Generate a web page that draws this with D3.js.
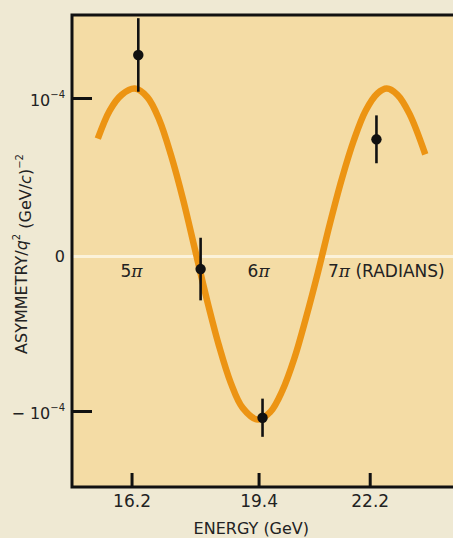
<!DOCTYPE html>
<html><head><meta charset="utf-8">
<script src="https://cdn.jsdelivr.net/npm/d3@7"></script>
<style>
body{margin:0;background:#efe9d3;}
svg{display:block;font-family:"DejaVu Sans",sans-serif;}
</style>
</head><body>
<svg id="c" width="453" height="538"></svg>
<script>
// ---- data (asymmetry in units of 10^-4 (GeV/c)^-2) ----
const xTicks = [16.2, 19.4, 22.2];
const xTickLabels = ["16.2", "19.4", "22.2"];
const yTicks = [-1, 0, 1];
const yTickBase = ["− 10", "0", "10"];
const yTickExp = ["−4", "", "−4"];

const energy = [16.37, 17.94, 19.50, 22.37];
const asym = [1.275, -0.093, -1.043, 0.736];
const asymErr = [0.235, 0.20, 0.122, 0.153];

const fitEnergy = [15.35,15.65,15.95,16.28,16.60,16.90,17.20,17.50,17.80,18.10,18.40,18.70,19.00,19.38,19.70,20.00,20.30,20.60,20.90,21.20,21.50,21.80,22.10,22.40,22.63,22.90,23.20,23.60];
const fitAsym = [0.74,0.92,1.02,1.06,1.005,0.86,0.63,0.35,0.03,-0.29,-0.58,-0.82,-0.98,-1.055,-1.005,-0.87,-0.665,-0.40,-0.11,0.20,0.485,0.73,0.92,1.03,1.06,1.02,0.90,0.64];

const phaseEnergy = [16.2, 19.4, 21.15];
const phaseText = ["5", "6", "7"];
const phaseSuffix = ["", "", " (RADIANS)"];

// ---- layout ----
const svg = d3.select("#c");
const mL = 72, mT = 15, mB = 487, mR = 461;
const x = d3.scaleLinear().domain([14.7, 24.5]).range([mL, mR]);
const y = d3.scaleLinear().domain([-1, 1]).range([411, 98]);

// plot background
svg.append("rect").attr("x", mL).attr("y", mT)
  .attr("width", 460 - mL).attr("height", mB - mT)
  .attr("fill", "#f4dca5");

// zero line
svg.append("line").attr("x1", mL).attr("x2", 460)
  .attr("y1", y(0) + 2).attr("y2", y(0) + 2)
  .attr("stroke", "#fbf2da").attr("stroke-width", 3);

// fitted curve
const line = d3.line().x((d, i) => x(fitEnergy[i])).y(d => y(d)).curve(d3.curveCatmullRom.alpha(0.5));
svg.append("path").datum(fitAsym).attr("d", line)
  .attr("fill", "none").attr("stroke", "#ec9413").attr("stroke-width", 6.5)
  .attr("stroke-linecap", "butt");

// error bars + points
const pts = svg.append("g");
energy.forEach((e, i) => {
  pts.append("line").attr("x1", x(e)).attr("x2", x(e))
    .attr("y1", y(asym[i] + asymErr[i])).attr("y2", y(asym[i] - asymErr[i]))
    .attr("stroke", "#111").attr("stroke-width", 2.6);
  pts.append("circle").attr("cx", x(e)).attr("cy", y(asym[i])).attr("r", 5.2).attr("fill", "#111");
});

// axes
const xAxis = d3.axisBottom(x).tickValues(xTicks).tickFormat((d, i) => xTickLabels[i])
  .tickSizeInner(-14).tickSizeOuter(0).tickPadding(8);
const gx = svg.append("g").attr("transform", `translate(0,${mB})`).call(xAxis);
gx.select(".domain").remove();
gx.selectAll(".tick line").attr("stroke", "#111").attr("stroke-width", 3);
gx.selectAll(".tick text").attr("font-size", 17).attr("fill", "#222")
  .attr("font-family", "DejaVu Sans");

const yAxis = d3.axisLeft(y).tickValues(yTicks).tickFormat(() => "")
  .tickSizeInner(-20).tickSizeOuter(0).tickPadding(7);
const gy = svg.append("g").attr("transform", `translate(${mL},0)`).call(yAxis);
gy.select(".domain").remove();
gy.selectAll(".tick line").attr("stroke", (d) => d === 0 ? "none" : "#111").attr("stroke-width", 3);
gy.selectAll(".tick text").each(function(d) {
  const t = d3.select(this).attr("font-size", 16).attr("fill", "#222")
    .attr("font-family", "DejaVu Sans").attr("dy", "0.45em");
  const k = yTicks.indexOf(d);
  t.append("tspan").text(yTickBase[k]);
  if (yTickExp[k]) t.append("tspan").attr("font-size", 10).attr("dy", "-0.8em").text(yTickExp[k]);
});

// frame (left, top, bottom)
svg.append("path")
  .attr("d", `M460,${mT} H${mL} V${mB} H460`)
  .attr("fill", "none").attr("stroke", "#111").attr("stroke-width", 3);

// phase labels
phaseEnergy.forEach((e, i) => {
  const t = svg.append("text").attr("x", x(e)).attr("y", y(0) + 22)
    .attr("text-anchor", i < 2 ? "middle" : "start")
    .attr("font-size", 17).attr("fill", "#222");
  t.append("tspan").text(phaseText[i]);
  t.append("tspan").attr("font-style", "italic").attr("font-family", "DejaVu Serif").text("π");
  if (phaseSuffix[i]) t.append("tspan").text(phaseSuffix[i]);
});

// axis titles
svg.append("text").attr("x", (x(16.2) + x(22.2)) / 2 - 57).attr("y", 534)
  .attr("font-size", 16).attr("fill", "#222").attr("text-anchor", "start")
  .text("ENERGY (GeV)");

const yt = svg.append("text")
  .attr("transform", "translate(27,254) rotate(-90)")
  .attr("text-anchor", "middle").attr("font-size", 16).attr("fill", "#222");
yt.append("tspan").text("ASYMMETRY/");
yt.append("tspan").attr("font-style", "italic").text("q");
yt.append("tspan").attr("font-size", 10).attr("dy", "-0.7em").text("2");
yt.append("tspan").attr("dy", "0.7em").text(" (GeV/");
yt.append("tspan").attr("font-style", "italic").text("c");
yt.append("tspan").text(")");
yt.append("tspan").attr("font-size", 10).attr("dy", "-0.8em").text("−2");
</script>
</body></html>
